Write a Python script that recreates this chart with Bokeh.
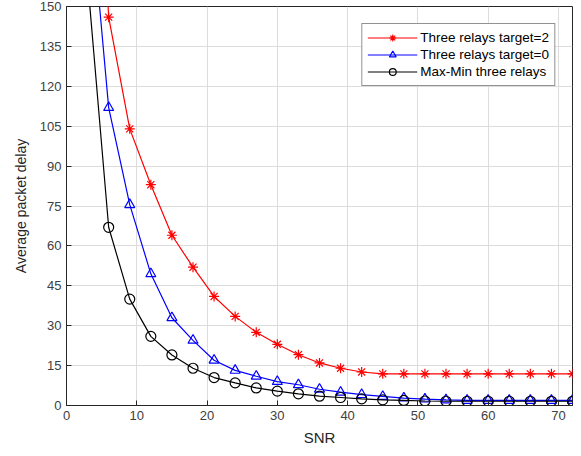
from bokeh.plotting import figure
from bokeh.embed import file_html
from bokeh.resources import INLINE
from bokeh.models import Range1d, FixedTicker

snr = [3, 6, 9, 12, 15, 18, 21, 24, 27, 30, 33, 36, 39, 42, 45, 48, 51, 54, 57, 60, 63, 66, 69, 72]
target2 = [300, 146, 104, 83, 64, 52, 41, 33.5, 27.5, 23, 19.1, 16, 14, 12.6, 11.9, 11.9, 11.9, 11.9, 11.9, 11.9, 11.9, 11.9, 11.9, 11.9]
target0 = [200, 112, 75.5, 49.5, 33, 24.5, 17, 13.2, 11, 9, 7.8, 6.1, 5, 4.1, 3.4, 2.8, 2.4, 2.1, 1.9, 1.9, 1.9, 1.9, 1.9, 1.9]
maxmin = [160, 67, 40, 26, 19, 14, 10.5, 8.5, 6.6, 5.4, 4.4, 3.5, 3.0, 2.5, 2.1, 1.9, 1.7, 1.6, 1.6, 1.6, 1.6, 1.6, 1.6, 1.6]
x_ticks = [0, 10, 20, 30, 40, 50, 60, 70]
y_ticks = [0, 15, 30, 45, 60, 75, 90, 105, 120, 135, 150]

FONT = "Liberation Sans"

p = figure(width=575, height=448, output_backend="svg", toolbar_location=None,
           x_range=Range1d(0, 72), y_range=Range1d(0, 150),
           min_border_left=66, min_border_right=3, min_border_top=6, min_border_bottom=10)

series = [
    (target2, "#ff0000", "asterisk", "Three relays target=2", 10),
    (target0, "#0000ff", "triangle", "Three relays target=0", 10),
    (maxmin, "#000000", "circle", "Max-Min three relays", 10),
]
for ys, col, mk, lab, sz in series:
    p.line(snr, ys, line_color=col, line_width=1.2, legend_label=lab)
    p.scatter(snr, ys, marker=mk, size=sz, line_color=col, fill_color=None,
              line_width=1.2, legend_label=lab)

for ax in (p.xaxis[0], p.yaxis[0]):
    ax.major_label_text_font = FONT
    ax.major_label_text_font_size = "13px"
    ax.major_label_text_color = "#404040"
    ax.axis_label_text_font = FONT
    ax.axis_label_text_font_style = "normal"
    ax.axis_label_text_color = "#262626"
    ax.axis_line_color = "#262626"
    ax.major_tick_line_color = "#262626"
    ax.major_tick_in = 5
    ax.major_tick_out = 0
    ax.minor_tick_line_color = None

p.xaxis.ticker = FixedTicker(ticks=x_ticks)
p.yaxis.ticker = FixedTicker(ticks=y_ticks)
p.xaxis.axis_label = "SNR"
p.yaxis.axis_label = "Average packet delay"
p.xaxis.axis_label_text_font_size = "15px"
p.yaxis.axis_label_text_font_size = "14px"
p.xaxis.axis_label_standoff = 6
p.yaxis.axis_label_standoff = 8

p.xgrid.grid_line_color = "#dcdcdc"
p.ygrid.grid_line_color = "#dcdcdc"
p.outline_line_color = "#262626"
p.outline_line_alpha = 1
p.background_fill_color = "white"
p.border_fill_color = "white"

lg = p.legend[0]
lg.location = "top_right"
lg.margin = 17
lg.border_line_color = "#262626"
lg.label_text_font = FONT
lg.label_text_font_size = "13.5px"
lg.label_text_color = "#000000"
lg.glyph_width = 50
lg.spacing = 0
lg.padding = 5
lg.label_standoff = 3
lg.label_height = 17
lg.glyph_height = 17

open("out.html", "w").write(file_html(p, INLINE))
